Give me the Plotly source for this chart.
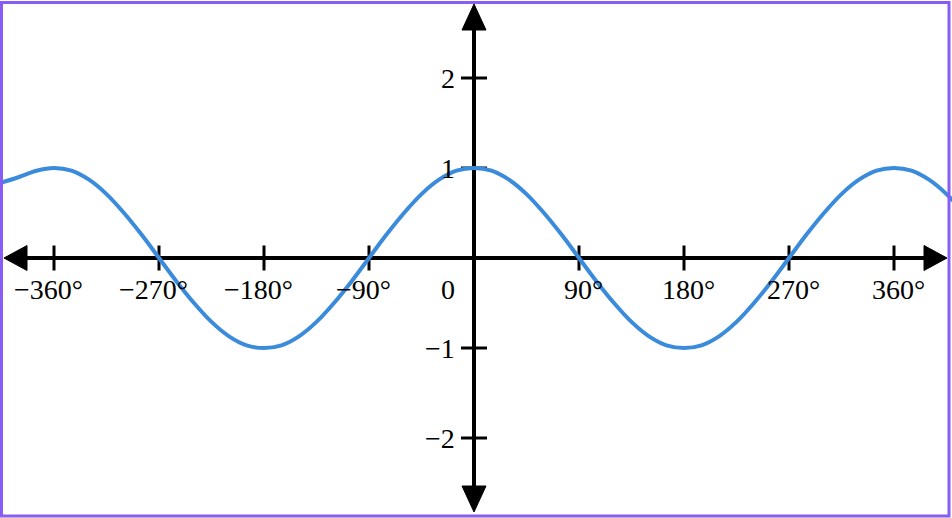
import plotly.graph_objects as go

# ---- data ----
angles = [-407, -390, -375, -360, -345, -330, -315, -300, -285, -270, -255, -240, -225,
          -210, -195, -180, -165, -150, -135, -120, -105, -90, -75, -60, -45, -30, -15,
          0, 15, 30, 45, 60, 75, 90, 105, 120, 135, 150, 165, 180, 195, 210, 225,
          240, 255, 270, 285, 300, 315, 330, 345, 360, 375, 390, 405, 420]
values = [0.83, 0.9, 0.97, 1.0, 0.97, 0.87, 0.71, 0.5, 0.26, 0.0, -0.26, -0.5, -0.71,
          -0.87, -0.97, -1.0, -0.97, -0.87, -0.71, -0.5, -0.26, 0.0, 0.26, 0.5, 0.71, 0.87, 0.97,
          1.0, 0.97, 0.87, 0.71, 0.5, 0.26, 0.0, -0.26, -0.5, -0.71, -0.87, -0.97, -1.0, -0.97, -0.87, -0.71,
          -0.5, -0.26, 0.0, 0.26, 0.5, 0.71, 0.87, 0.97, 1.0, 0.97, 0.87, 0.71, 0.5]
x_ticks = [-360, -270, -180, -90, 90, 180, 270, 360]
x_tick_labels = ["\u2212360°", "\u2212270°", "\u2212180°", "\u221290°", "90°", "180°", "270°", "360°"]
y_ticks = [-2, -1, 1, 2]
y_tick_labels = ["\u22122", "\u22121", "1", "2"]

W, H = 952, 518
X0, Y0 = 474, 258          # pixel position of origin
SX, SY = 420 / 360, 90     # pixels per degree / per unit

def px2x(p):
    return (p - X0) / SX

def py2y(p):
    return (Y0 - p) / SY

xr = [px2x(0), px2x(W)]
yr = [py2y(H), py2y(0)]

FONT = "Liberation Serif"
FS = 28
BLACK = "#000000"
BLUE = "#3A8BDB"
PURPLE = "#8A5CF6"

fig = go.Figure()
fig.add_trace(go.Scatter(x=angles, y=values, mode="lines",
                         line=dict(color=BLUE, width=4, shape="spline", smoothing=1),
                         hoverinfo="skip", showlegend=False))

shapes = []
# axes lines
shapes.append(dict(type="line", xref="x", yref="y", x0=px2x(20), x1=px2x(930), y0=0, y1=0,
                   line=dict(color=BLACK, width=4), layer="below"))
shapes.append(dict(type="line", xref="x", yref="y", x0=0, x1=0, y0=py2y(20), y1=py2y(498),
                   line=dict(color=BLACK, width=4), layer="below"))

def tri(pts):
    d = "M " + " L ".join(f"{px2x(a)},{py2y(b)}" for a, b in pts) + " Z"
    return dict(type="path", xref="x", yref="y", path=d, fillcolor=BLACK,
                line=dict(color=BLACK, width=1), layer="below")

shapes.append(tri([(4, Y0), (27, Y0 - 12.5), (27, Y0 + 12.5)]))
shapes.append(tri([(947, Y0), (924, Y0 - 12.5), (924, Y0 + 12.5)]))
shapes.append(tri([(X0, 4), (X0 - 12, 30), (X0 + 12, 30)]))
shapes.append(tri([(X0, 512), (X0 - 12, 486), (X0 + 12, 486)]))

# ticks
for t in x_ticks:
    shapes.append(dict(type="line", xref="x", yref="y", x0=t, x1=t, y0=12.5 / SY, y1=-12.5 / SY,
                       line=dict(color=BLACK, width=3), layer="below"))
for t in y_ticks:
    shapes.append(dict(type="line", xref="x", yref="y", y0=t, y1=t, x0=-13 / SX, x1=13 / SX,
                       line=dict(color=BLACK, width=3), layer="below"))

# border
shapes.append(dict(type="rect", xref="paper", yref="paper",
                   x0=1.5 / W, x1=1 - 3 / W, y0=2 / H, y1=1 - 2.5 / H,
                   line=dict(color=PURPLE, width=3), fillcolor="rgba(0,0,0,0)"))

annotations = []
for t, lab in zip(x_ticks, x_tick_labels):
    annotations.append(dict(x=t, y=0, xref="x", yref="y", text=lab, showarrow=False,
                            xanchor="center", yanchor="middle",
                            xshift=(-6 if t < 0 else 4), yshift=-31,
                            font=dict(family=FONT, size=FS, color=BLACK)))
annotations.append(dict(x=0, y=0, xref="x", yref="y", text="0", showarrow=False,
                        xanchor="right", yanchor="middle", xshift=-17, yshift=-31,
                        font=dict(family=FONT, size=FS, color=BLACK)))
for t, lab in zip(y_ticks, y_tick_labels):
    annotations.append(dict(x=0, y=t, xref="x", yref="y", text=lab, showarrow=False,
                            xanchor="right", yanchor="middle", xshift=-17, yshift=0,
                            font=dict(family=FONT, size=FS, color=BLACK)))

fig.update_layout(
    width=W, height=H,
    margin=dict(l=0, r=0, t=0, b=0),
    paper_bgcolor="white", plot_bgcolor="white",
    xaxis=dict(range=xr, visible=False, fixedrange=True),
    yaxis=dict(range=yr, visible=False, fixedrange=True),
    shapes=shapes, annotations=annotations,
    showlegend=False,
)

fig.write_html("out.html", config={"displayModeBar": False},
               post_script="document.body.style.margin='0';document.body.style.overflow='hidden';")
